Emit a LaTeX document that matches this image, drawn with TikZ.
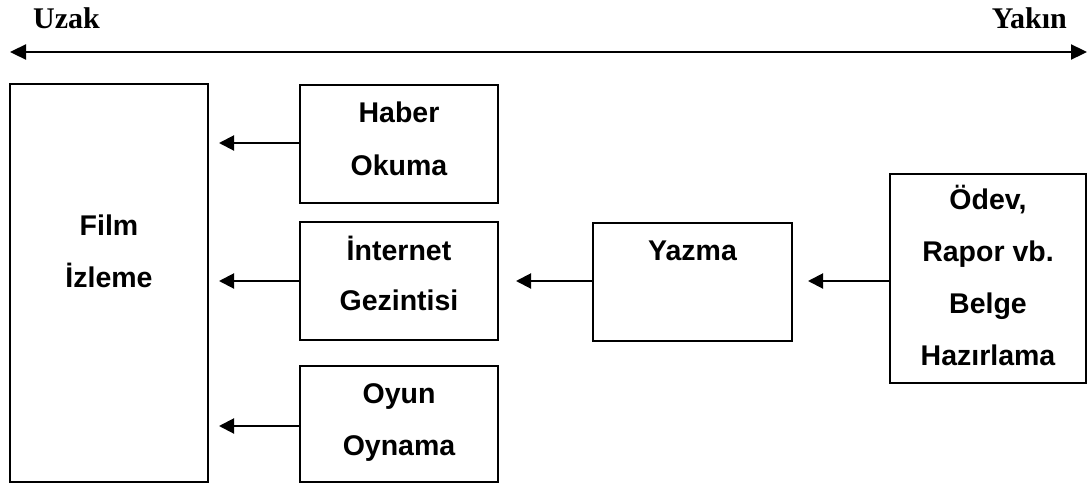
\documentclass[tikz,border=0pt]{standalone}
\usepackage{fontspec}
\setmainfont{Liberation Sans}
\newfontfamily\serifbold{Liberation Serif}
\usetikzlibrary{arrows.meta}
\tikzset{
  box/.style={draw, line width=2pt, inner sep=0pt, minimum width=#1},
  txt/.style={font=\bfseries\fontsize{28.5}{34}\selectfont, anchor=base, inner sep=0pt},
  endtxt/.style={font=\serifbold\bfseries\fontsize{30}{36}\selectfont, anchor=base, inner sep=0pt},
  conn/.style={line width=2pt, -{Triangle[length=15pt,width=15pt]}, shorten >=#1},
  conn/.default=10pt,
  axisline/.style={line width=2.3pt, {Triangle[length=16pt,width=15pt]}-{Triangle[length=16pt,width=15pt]}}
}
\begin{document}
\begin{tikzpicture}[x=1pt,y=-1pt]
\useasboundingbox (0,0) rectangle (1088,485);
% distance axis
\coordinate (farend) at (10,52);
\coordinate (nearend) at (1087,52);
\draw[axisline] (farend) -- (nearend);
\node[endtxt, anchor=base west] (uzak) at (33,28) {Uzak};
\node[endtxt, anchor=base east] (yakin) at (1067,28) {Yakın};
% boxes
\node[box=198pt, minimum height=398pt] (film) at (109,283) {};
\node[box=198pt, minimum height=118pt] (haber) at (399,144) {};
\node[box=198pt, minimum height=118pt] (internet) at (399,281) {};
\node[box=198pt, minimum height=116pt] (oyun) at (399,424) {};
\node[box=199pt, minimum height=118pt] (yazma) at (692.5,282) {};
\node[box=196pt, minimum height=209pt] (odev) at (988,278.5) {};
% texts
\node[txt] (film1) at (109,235) {Film};
\node[txt] (film2) at (109,287) {İzleme};
\node[txt] (haber1) at (399,122) {Haber};
\node[txt] (haber2) at (399,175) {Okuma};
\node[txt] (internet1) at (399,260) {İnternet};
\node[txt] (internet2) at (399,310) {Gezintisi};
\node[txt] (oyun1) at (399,403) {Oyun};
\node[txt] (oyun2) at (399,455) {Oynama};
\node[txt] (yazma1) at (692.5,260) {Yazma};
\node[txt] (odev1) at (988,209) {Ödev,};
\node[txt] (odev2) at (988,261) {Rapor vb.};
\node[txt] (odev3) at (988,313) {Belge};
\node[txt] (odev4) at (988,365) {Hazırlama};
% connectors
\draw[conn] ([yshift=1pt]haber.west) -- ([yshift=1pt]haber.west -| film.east);
\draw[conn] (internet.west) -- (internet.west -| film.east);
\draw[conn] ([yshift=-2pt]oyun.west) -- ([yshift=-2pt]oyun.west -| film.east);
\draw[conn=17pt] ([yshift=1pt]yazma.west) -- ([yshift=1pt]yazma.west -| internet.east);
\draw[conn=15pt] ([yshift=-2.5pt]odev.west) -- ([yshift=-2.5pt]odev.west -| yazma.east);
\end{tikzpicture}
\end{document}
